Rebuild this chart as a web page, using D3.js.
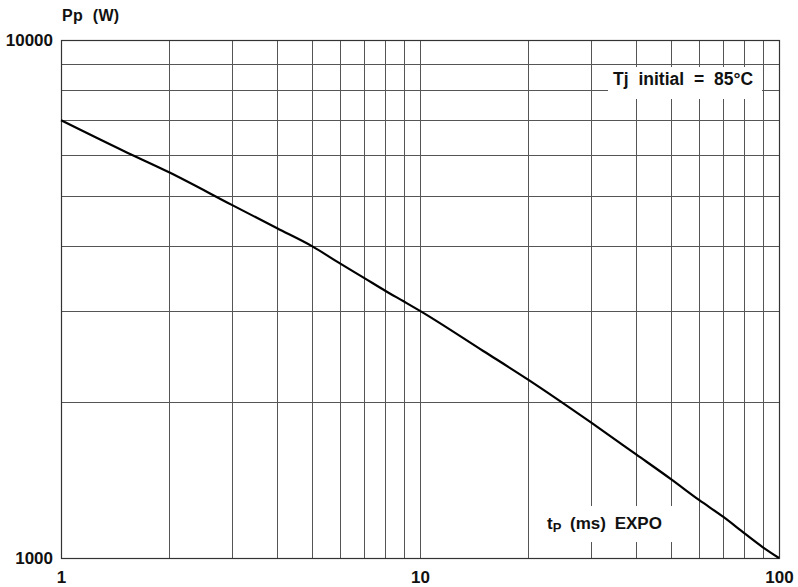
<!DOCTYPE html>
<html>
<head>
<meta charset="utf-8">
<script src="https://cdn.jsdelivr.net/npm/d3@7"></script>
<style>
  html, body { margin: 0; padding: 0; background: #fff; }
  svg { display: block; }
  text { font-family: "Liberation Sans", Arial, Helvetica, sans-serif; font-weight: bold; fill: #111; }
</style>
</head>
<body>
<svg id="chart" width="798" height="587"></svg>
<script>
// ---- data ----
const tpValues = [1, 1.5, 2, 3, 4, 5, 6, 7, 8, 9, 10, 15, 20, 30, 40, 50, 60, 70, 80, 90, 100];
const ppValues = [7000, 6100, 5555, 4800, 4330, 4000, 3700, 3470, 3280, 3130, 3000, 2510, 2210, 1825, 1585, 1420, 1293, 1200, 1117, 1050, 1000];
const xGridValues = [2, 3, 4, 5, 6, 7, 8, 9, 10, 20, 30, 40, 50, 60, 70, 80, 90];
const yGridValues = [2000, 3000, 4000, 5000, 6000, 7000, 8000, 9000];
const xTickValues = [1, 10, 100];
const xTickLabels = ["1", "10", "100"];
const yTickValues = [1000, 10000];
const yTickLabels = ["1000", "10000"];
const yAxisTitle = "Pp (W)";
const legendText = "Tj initial = 85°C";

// ---- layout ----
const W = 798, H = 587;
const margin = { left: 61, right: 19, top: 40, bottom: 29 };
const iw = W - margin.left - margin.right;
const ih = H - margin.top - margin.bottom;

const svg = d3.select("#chart");
const g = svg.append("g").attr("transform", `translate(${margin.left},${margin.top})`);

const x = d3.scaleLog().domain([1, 100]).range([0, iw]);
const y = d3.scaleLog().domain([1000, 10000]).range([ih, 0]);

const gridColor = "#555";

// grid lines
g.append("g").selectAll("line.vg").data(xGridValues).join("line")
  .attr("x1", d => Math.round(x(d)) + 0.5).attr("x2", d => Math.round(x(d)) + 0.5)
  .attr("y1", 0).attr("y2", ih)
  .attr("stroke", gridColor).attr("stroke-width", 1);
g.append("g").selectAll("line.hg").data(yGridValues).join("line")
  .attr("y1", d => Math.round(y(d)) + 0.5).attr("y2", d => Math.round(y(d)) + 0.5)
  .attr("x1", 0).attr("x2", iw)
  .attr("stroke", gridColor).attr("stroke-width", 1);

// frame
g.append("rect").attr("x", 0.5).attr("y", 0.5).attr("width", iw).attr("height", ih)
  .attr("fill", "none").attr("stroke", "#333").attr("stroke-width", 1.2);

// white label boxes over the grid
g.append("rect").attr("x", 608 - margin.left).attr("y", 67 - margin.top)
  .attr("width", 154).attr("height", 32).attr("fill", "#fff");
g.append("rect").attr("x", 540 - margin.left).attr("y", 506 - margin.top)
  .attr("width", 134).attr("height", 36).attr("fill", "#fff");

// curve
const line = d3.line().x((d, i) => x(tpValues[i])).y(d => y(d)).curve(d3.curveMonotoneX);
g.append("path").datum(ppValues)
  .attr("d", line)
  .attr("fill", "none").attr("stroke", "#000").attr("stroke-width", 2.2)
  .attr("stroke-linejoin", "round");

// axes tick labels
const xAxis = d3.axisBottom(x).tickValues(xTickValues)
  .tickFormat((d, i) => xTickLabels[i]).tickSize(0).tickPadding(13);
const xa = g.append("g").attr("transform", `translate(0,${ih})`).call(xAxis);
xa.select(".domain").remove();
xa.selectAll("text").attr("font-size", 17).attr("font-family", null).style("font-weight", "bold").attr("fill", "#111");

const yAxis = d3.axisLeft(y).tickValues(yTickValues)
  .tickFormat((d, i) => yTickLabels[i]).tickSize(0).tickPadding(8);
const ya = g.append("g").call(yAxis);
ya.select(".domain").remove();
ya.selectAll("text").attr("font-size", 17).attr("font-family", null).style("font-weight", "bold").attr("fill", "#111");

// axis title
svg.append("text").attr("x", 62).attr("y", 21).attr("font-size", 16)
  .style("word-spacing", "5px").style("letter-spacing", "0.3px").text(yAxisTitle);

// legend text
svg.append("text").attr("x", 613).attr("y", 85).attr("font-size", 17.5)
  .style("word-spacing", "5px").text(legendText);

// x-axis title inside plot
const xt = svg.append("text").attr("x", 547).attr("y", 529).attr("font-size", 17).style("word-spacing", "4px");
xt.append("tspan").text("t");
xt.append("tspan").attr("font-size", 13).attr("dy", 3).text("P");
xt.append("tspan").attr("dy", -3).text(" (ms)  EXPO");
</script>
</body>
</html>
